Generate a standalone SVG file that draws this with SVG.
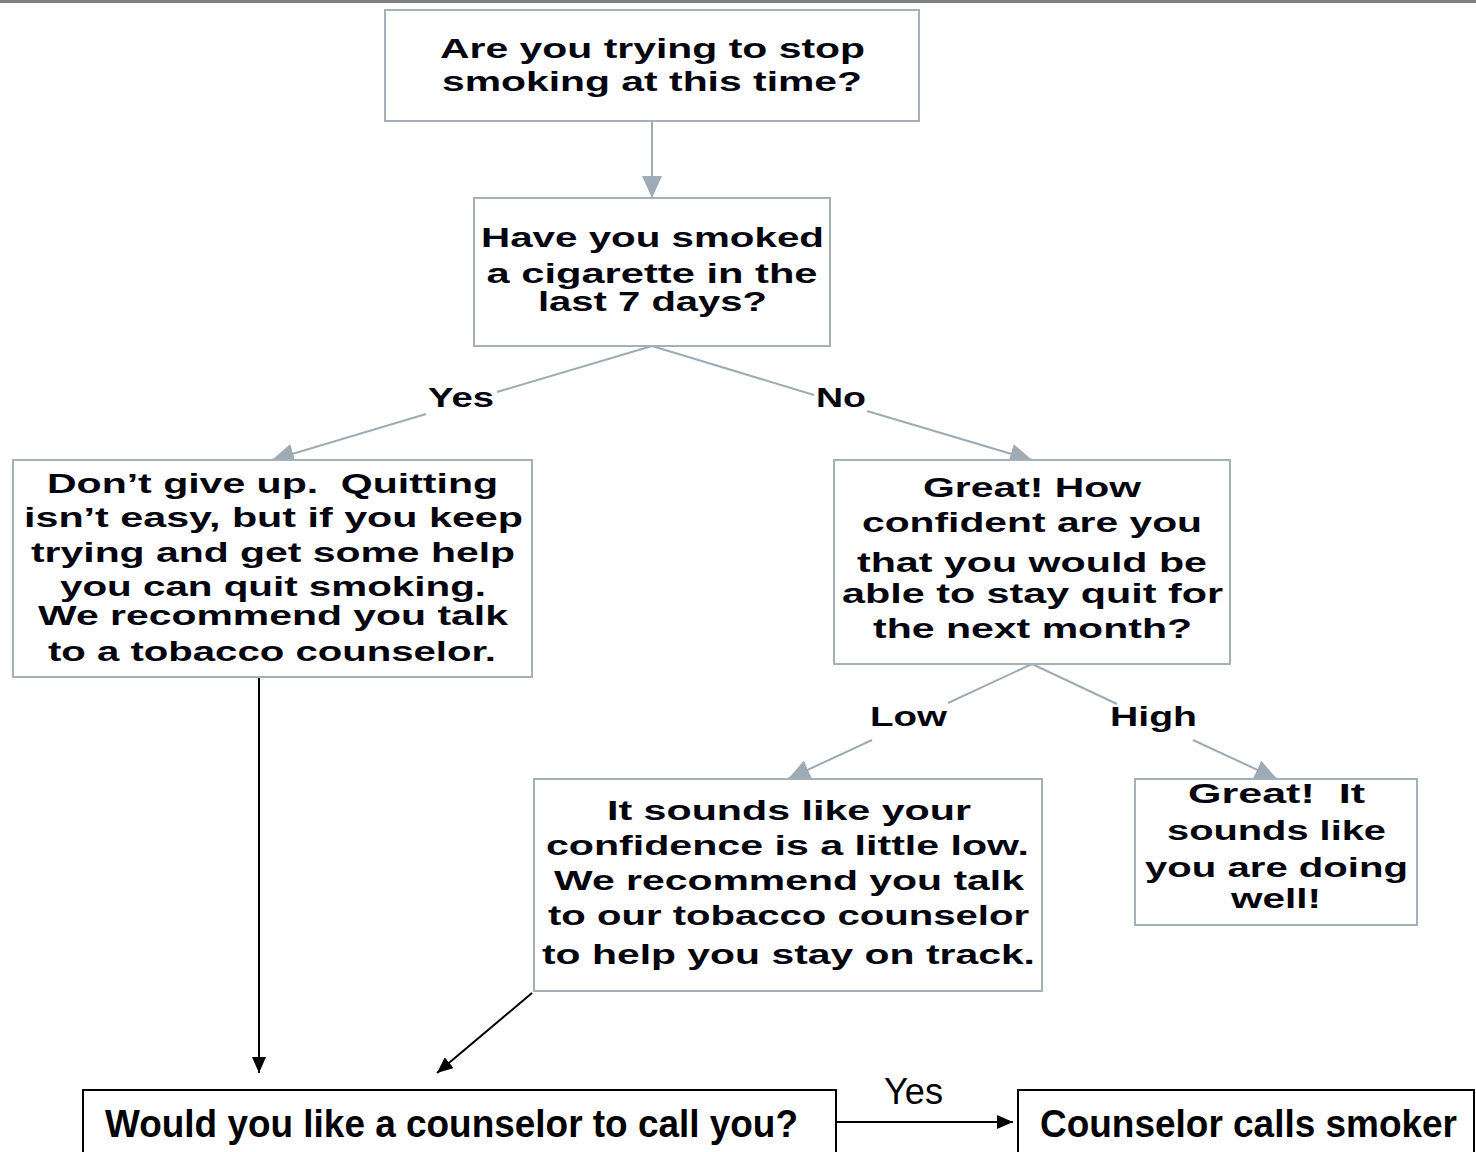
<svg xmlns="http://www.w3.org/2000/svg" width="1476" height="1152" viewBox="0 0 1476 1152">
<defs>
<style>
.box{fill:#fff;stroke:#a5b1ba;stroke-width:2}
.bbox{fill:#fff;stroke:#000;stroke-width:2}
.t{font-family:"Liberation Sans",Arial,sans-serif;font-weight:bold;font-size:28px;fill:#050510;text-anchor:middle;white-space:pre}
.b{font-family:"Liberation Sans",Arial,sans-serif;font-weight:bold;font-size:38px;fill:#000;text-anchor:middle}
.r{font-family:"Liberation Sans",Arial,sans-serif;font-size:36px;fill:#000;text-anchor:middle}
.g{stroke:#9eabb5;stroke-width:2;fill:none}
.k{stroke:#000;stroke-width:2;fill:none}
</style>
<marker id="ga" viewBox="0 0 22 20" refX="22" refY="10" markerWidth="22" markerHeight="20" markerUnits="userSpaceOnUse" orient="auto"><path d="M0,0 L22,10 L0,20 z" fill="#9eabb5"/></marker>
<marker id="ka" viewBox="0 0 16 14" refX="16" refY="7" markerWidth="16" markerHeight="14" markerUnits="userSpaceOnUse" orient="auto"><path d="M0,0 L16,7 L0,14 z" fill="#000"/></marker>
</defs>
<rect x="0" y="0" width="1476" height="3" fill="#808080"/>
<g id="connectors">
<line class="g" x1="652" y1="121" x2="652" y2="198" marker-end="url(#ga)"/>
<line class="g" x1="652" y1="346" x2="497" y2="392"/>
<line class="g" x1="426" y1="414" x2="272" y2="460" marker-end="url(#ga)"/>
<line class="g" x1="652" y1="346" x2="814" y2="395"/>
<line class="g" x1="867" y1="411" x2="1032" y2="460" marker-end="url(#ga)"/>
<line class="g" x1="1032" y1="664" x2="948" y2="703"/>
<line class="g" x1="872" y1="740" x2="788" y2="779" marker-end="url(#ga)"/>
<line class="g" x1="1032" y1="664" x2="1117" y2="704"/>
<line class="g" x1="1193" y1="740" x2="1277" y2="779" marker-end="url(#ga)"/>
<line class="k" x1="259" y1="676" x2="259" y2="1073" marker-end="url(#ka)"/>
<line class="k" x1="532" y1="993" x2="437" y2="1073" marker-end="url(#ka)"/>
<line class="k" x1="836" y1="1122" x2="1013" y2="1122" marker-end="url(#ka)"/>
<text class="t" x="461" y="407" textLength="66" lengthAdjust="spacingAndGlyphs">Yes</text>
<text class="t" x="841" y="407" textLength="50" lengthAdjust="spacingAndGlyphs">No</text>
<text class="t" x="908.5" y="726" textLength="77" lengthAdjust="spacingAndGlyphs">Low</text>
<text class="t" x="1153.5" y="726" textLength="87" lengthAdjust="spacingAndGlyphs">High</text>
<text class="r" x="913.5" y="1104" textLength="59" lengthAdjust="spacingAndGlyphs">Yes</text>
</g>
<g id="q1">
<rect class="box" x="385" y="10" width="534" height="111"/>
<text class="t" x="652.5" y="58" textLength="425" lengthAdjust="spacingAndGlyphs">Are you trying to stop</text>
<text class="t" x="652" y="91" textLength="420" lengthAdjust="spacingAndGlyphs">smoking at this time?</text>
</g>
<g id="q2">
<rect class="box" x="474" y="198" width="356" height="148"/>
<text class="t" x="652.5" y="247" textLength="343" lengthAdjust="spacingAndGlyphs">Have you smoked</text>
<text class="t" x="652" y="283" textLength="331" lengthAdjust="spacingAndGlyphs">a cigarette in the</text>
<text class="t" x="652.5" y="311" textLength="229" lengthAdjust="spacingAndGlyphs">last 7 days?</text>
</g>
<g id="yes-msg">
<rect class="box" x="13" y="460" width="519" height="217"/>
<text class="t" x="272.5" y="493" textLength="451" lengthAdjust="spacingAndGlyphs">Don’t give up.  Quitting</text>
<text class="t" x="273.5" y="527" textLength="499" lengthAdjust="spacingAndGlyphs">isn’t easy, but if you keep</text>
<text class="t" x="273" y="562" textLength="484" lengthAdjust="spacingAndGlyphs">trying and get some help</text>
<text class="t" x="273" y="596" textLength="426" lengthAdjust="spacingAndGlyphs">you can quit smoking.</text>
<text class="t" x="273" y="625" textLength="470" lengthAdjust="spacingAndGlyphs">We recommend you talk</text>
<text class="t" x="272" y="661" textLength="448" lengthAdjust="spacingAndGlyphs">to a tobacco counselor.</text>
</g>
<g id="q3">
<rect class="box" x="834" y="460" width="396" height="204"/>
<text class="t" x="1032" y="497" textLength="218" lengthAdjust="spacingAndGlyphs">Great! How</text>
<text class="t" x="1032" y="532" textLength="340" lengthAdjust="spacingAndGlyphs">confident are you</text>
<text class="t" x="1032" y="572" textLength="350" lengthAdjust="spacingAndGlyphs">that you would be</text>
<text class="t" x="1032.5" y="603" textLength="381" lengthAdjust="spacingAndGlyphs">able to stay quit for</text>
<text class="t" x="1032.5" y="638" textLength="319" lengthAdjust="spacingAndGlyphs">the next month?</text>
</g>
<g id="low-msg">
<rect class="box" x="534" y="779" width="508" height="212"/>
<text class="t" x="789" y="820" textLength="364" lengthAdjust="spacingAndGlyphs">It sounds like your</text>
<text class="t" x="787.5" y="855" textLength="483" lengthAdjust="spacingAndGlyphs">confidence is a little low.</text>
<text class="t" x="789" y="890" textLength="470" lengthAdjust="spacingAndGlyphs">We recommend you talk</text>
<text class="t" x="788.5" y="925" textLength="481" lengthAdjust="spacingAndGlyphs">to our tobacco counselor</text>
<text class="t" x="788.5" y="964" textLength="493" lengthAdjust="spacingAndGlyphs">to help you stay on track.</text>
</g>
<g id="high-msg">
<rect class="box" x="1135" y="779" width="282" height="146"/>
<text class="t" x="1276.5" y="803" textLength="177" lengthAdjust="spacingAndGlyphs">Great!  It</text>
<text class="t" x="1276.5" y="840" textLength="219" lengthAdjust="spacingAndGlyphs">sounds like</text>
<text class="t" x="1276.5" y="877" textLength="263" lengthAdjust="spacingAndGlyphs">you are doing</text>
<text class="t" x="1276" y="908" textLength="90" lengthAdjust="spacingAndGlyphs">well!</text>
</g>
<g id="q4">
<rect class="bbox" x="83" y="1090" width="753" height="80"/>
<text class="b" x="451.5" y="1137" textLength="693" lengthAdjust="spacingAndGlyphs">Would you like a counselor to call you?</text>
</g>
<g id="call">
<rect class="bbox" x="1018" y="1090" width="456" height="80"/>
<text class="b" x="1248.5" y="1137" textLength="417" lengthAdjust="spacingAndGlyphs">Counselor calls smoker</text>
</g>
</svg>
